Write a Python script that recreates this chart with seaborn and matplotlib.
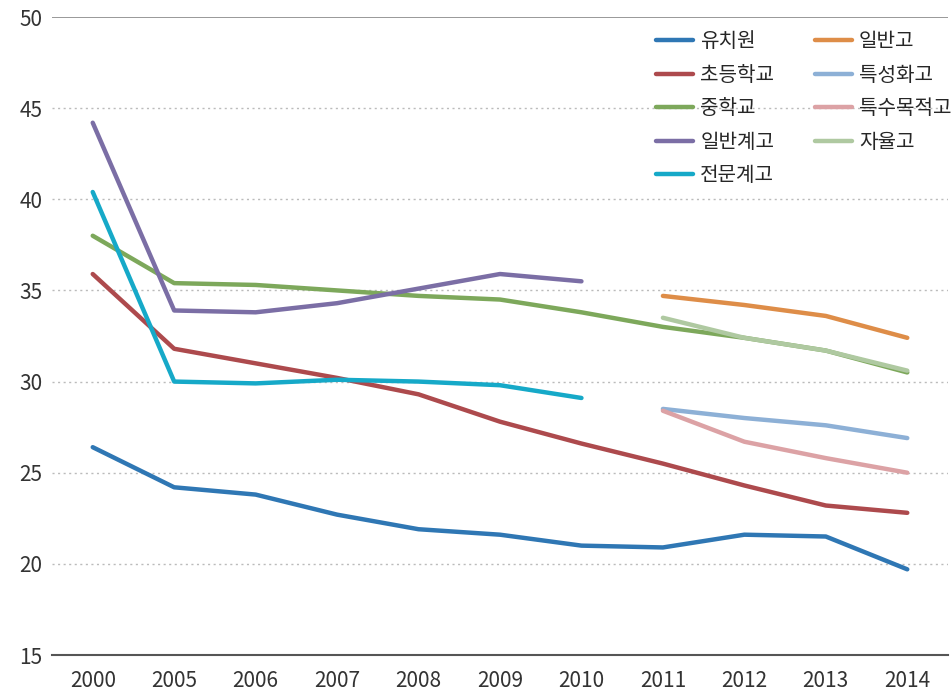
import matplotlib
matplotlib.use("Agg")
import matplotlib.pyplot as plt
import seaborn as sns
import pandas as pd

years = ['2000', '2005', '2006', '2007', '2008', '2009', '2010',
         '2011', '2012', '2013', '2014']

# values per series (None = no data for that year)
kindergarten = [26.4, 24.2, 23.8, 22.7, 21.9, 21.6, 21.0, 20.9, 21.6, 21.5, 19.7]
elementary = [35.9, 31.8, 31.0, 30.2, 29.3, 27.8, 26.6, 25.5, 24.3, 23.2, 22.8]
middle = [38.0, 35.4, 35.3, 35.0, 34.7, 34.5, 33.8, 33.0, 32.4, 31.7, 30.5]
general_old = [44.2, 33.9, 33.8, 34.3, 35.1, 35.9, 35.5, None, None, None, None]
vocational_old = [40.4, 30.0, 29.9, 30.1, 30.0, 29.8, 29.1, None, None, None, None]
general_high = [None] * 7 + [34.7, 34.2, 33.6, 32.4]
specialized = [None] * 7 + [28.5, 28.0, 27.6, 26.9]
special_purpose = [None] * 7 + [28.4, 26.7, 25.8, 25.0]
autonomous = [None] * 7 + [33.5, 32.4, 31.7, 30.6]

series = {
    '유치원': kindergarten,
    '초등학교': elementary,
    '중학교': middle,
    '일반계고': general_old,
    '전문계고': vocational_old,
    '일반고': general_high,
    '특성화고': specialized,
    '특수목적고': special_purpose,
    '자율고': autonomous,
}
colors = ['#2f77b4', '#ad4a4d', '#7da85b', '#7b6ea5', '#16a9c8',
          '#de8d48', '#8db0d6', '#dca2a5', '#afc9a1']

rows = []
for name, vals in series.items():
    for i, v in enumerate(vals):
        if v is not None:
            rows.append({'pos': i, 'value': v, 'series': name})
df = pd.DataFrame(rows)

sns.set_style('white')
plt.rcParams['font.family'] = ['Noto Sans CJK KR', 'DejaVu Sans']

fig = plt.figure(figsize=(9.51, 6.98), dpi=100)
ax = fig.add_axes([52 / 951, 1 - 655 / 698, (948 - 52) / 951, (655 - 17) / 698])

sns.lineplot(data=df, x='pos', y='value', hue='series',
             hue_order=list(series.keys()), palette=colors,
             linewidth=3.2, ax=ax, sort=True)

ax.set_xlim(-0.5, 10.5)
ax.set_ylim(15, 50)
ax.set_xticks(range(len(years)))
ax.set_xticklabels(years)
ax.set_yticks(range(15, 55, 5))
ax.set_xlabel('')
ax.set_ylabel('')
ax.tick_params(axis='both', length=0, labelsize=15, colors='#333333')
ax.tick_params(axis='x', pad=11)
ax.tick_params(axis='y', pad=7)

for y in range(20, 50, 5):
    ax.axhline(y, color='#bbbbbb', linestyle=(0, (1.5, 2.5)), linewidth=1, zorder=0)
ax.axhline(50, color='#888888', linewidth=1.2, zorder=0)

for side in ['top', 'right', 'left']:
    ax.spines[side].set_visible(False)
ax.spines['bottom'].set_color('#555555')
ax.spines['bottom'].set_linewidth(1.5)

ax.legend(ncol=2, loc='upper left', bbox_to_anchor=(590 / 896, 1.0),
          frameon=False, fontsize=14.5, handlelength=1.85, labelspacing=0.62,
          columnspacing=2.0, handletextpad=0.35, borderaxespad=0.3)

fig.savefig('out.png', dpi=100)
